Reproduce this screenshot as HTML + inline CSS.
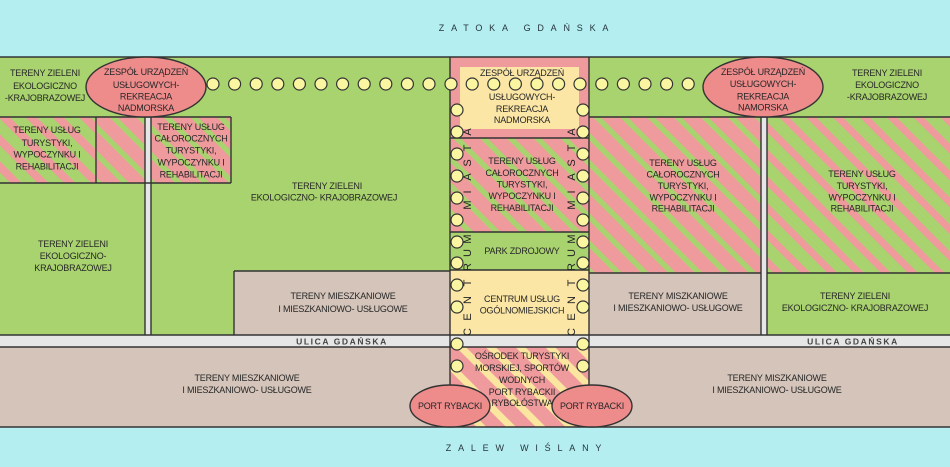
<!DOCTYPE html>
<html><head><meta charset="utf-8"><style>
html,body{margin:0;padding:0;background:#b4eef0;}
svg{display:block;}
text{font-family:"Liberation Sans",sans-serif;font-size:9px;fill:#262626;text-anchor:middle;letter-spacing:-0.2px;}
.sea{font-size:9px;letter-spacing:6.8px;fill:#26343c;}
.road{font-size:8.5px;letter-spacing:1.6px;fill:#444;font-weight:bold;}
.vt{font-size:11px;letter-spacing:0;dominant-baseline:central;fill:#222;}
</style></head><body>
<svg width="950" height="467" viewBox="0 0 950 467" xmlns="http://www.w3.org/2000/svg">
<defs>
<pattern id="pA" width="19" height="19" patternUnits="userSpaceOnUse" patternTransform="rotate(45)"><rect width="19" height="19" fill="#ef9a9c"/><rect width="19" height="5.5" fill="#a9d36f"/></pattern>
<pattern id="pB" width="19" height="19" patternUnits="userSpaceOnUse" patternTransform="rotate(45)"><rect width="19" height="19" fill="#a9d36f"/><rect width="19" height="7" fill="#ef9a9c"/></pattern>
<pattern id="pC" width="19" height="19" patternUnits="userSpaceOnUse" patternTransform="rotate(45)"><rect width="19" height="19" fill="#a9d36f"/><rect width="19" height="8" fill="#ef9a9c"/></pattern>
<pattern id="pD" width="21" height="21" patternUnits="userSpaceOnUse" patternTransform="rotate(45)"><rect width="21" height="21" fill="#ef9a9c"/><rect width="21" height="7" fill="#fbe6a0"/></pattern>
</defs>
<rect x="0" y="0" width="950" height="467" fill="#b4eef0"/>
<rect x="0" y="57" width="950" height="278" fill="#a9d36f"/>
<rect x="0" y="117" width="96" height="66" fill="url(#pC)"/>
<rect x="96" y="117" width="49" height="66" fill="url(#pA)"/>
<rect x="151" y="117" width="80" height="66" fill="url(#pA)"/>
<rect x="145" y="117" width="6" height="218" fill="#e6e6e6"/>
<rect x="234" y="271" width="216" height="64" fill="#d4c4ba"/>
<rect x="450" y="57" width="139" height="81" fill="#ef9a9c"/>
<rect x="460" y="67" width="119" height="62" fill="#fbe6a6"/>
<rect x="450" y="138" width="139" height="94" fill="url(#pA)"/>
<rect x="450" y="232" width="139" height="38" fill="#a9d36f"/>
<rect x="450" y="270" width="139" height="65" fill="#fbe6a6"/>
<rect x="589" y="117" width="172" height="156" fill="url(#pA)"/>
<rect x="767" y="117" width="183" height="156" fill="url(#pB)"/>
<rect x="761" y="117" width="6" height="218" fill="#e6e6e6"/>
<rect x="589" y="273" width="172" height="62" fill="#d4c4ba"/>
<rect x="0" y="335" width="950" height="12" fill="#e6e6e6"/>
<rect x="0" y="347" width="950" height="80" fill="#d4c4ba"/>
<rect x="450" y="347" width="139" height="80" fill="url(#pD)"/>

<g stroke="#333" stroke-width="1.4" fill="none">
<line x1="0" y1="57" x2="950" y2="57"/>
<line x1="0" y1="117" x2="231" y2="117"/>
<line x1="589" y1="117" x2="950" y2="117"/>
<line x1="0" y1="183" x2="231" y2="183"/>
<line x1="96" y1="117" x2="96" y2="183"/>
<line x1="231" y1="117" x2="231" y2="183"/>
<line x1="145" y1="117" x2="145" y2="335"/>
<line x1="151" y1="117" x2="151" y2="335"/>
<line x1="234" y1="271" x2="450" y2="271"/>
<line x1="234" y1="271" x2="234" y2="335"/>
<line x1="761" y1="117" x2="761" y2="335"/>
<line x1="767" y1="117" x2="767" y2="335"/>
<line x1="589" y1="273" x2="761" y2="273"/>
<line x1="767" y1="273" x2="950" y2="273"/>
<line x1="0" y1="335" x2="950" y2="335"/>
<line x1="0" y1="347" x2="950" y2="347"/>
<line x1="0" y1="427" x2="950" y2="427"/>
<line x1="450" y1="57" x2="450" y2="427"/>
<line x1="589" y1="57" x2="589" y2="427"/>
<line x1="450" y1="138" x2="589" y2="138"/>
<line x1="450" y1="232" x2="589" y2="232"/>
<line x1="450" y1="270" x2="589" y2="270"/>
</g>

<ellipse cx="146" cy="87" rx="60" ry="30" fill="#ee8c8c" stroke="#333" stroke-width="1.4"/>
<ellipse cx="763" cy="87" rx="60" ry="30" fill="#ee8c8c" stroke="#333" stroke-width="1.4"/>

<g fill="#faf5a0" stroke="#333" stroke-width="1.2">
<circle cx="213" cy="84" r="6"/><circle cx="234.6" cy="84" r="6"/><circle cx="256.2" cy="84" r="6"/><circle cx="277.8" cy="84" r="6"/><circle cx="299.4" cy="84" r="6"/><circle cx="321" cy="84" r="6"/><circle cx="342.6" cy="84" r="6"/><circle cx="364.2" cy="84" r="6"/><circle cx="385.8" cy="84" r="6"/><circle cx="407.4" cy="84" r="6"/><circle cx="429" cy="84" r="6"/><circle cx="451" cy="84" r="6"/><circle cx="472.2" cy="84" r="6"/><circle cx="493.8" cy="84" r="6"/><circle cx="515.4" cy="84" r="6"/><circle cx="537" cy="84" r="6"/><circle cx="558.6" cy="84" r="6"/><circle cx="580" cy="84" r="6"/><circle cx="601.8" cy="84" r="6"/><circle cx="623.4" cy="84" r="6"/><circle cx="645" cy="84" r="6"/><circle cx="666.6" cy="84" r="6"/><circle cx="688.2" cy="84" r="6"/>
<circle cx="457" cy="110" r="6"/><circle cx="457" cy="132" r="6"/><circle cx="457" cy="154" r="6"/><circle cx="457" cy="176" r="6"/><circle cx="457" cy="198" r="6"/><circle cx="457" cy="220" r="6"/><circle cx="457" cy="242" r="6"/><circle cx="457" cy="263" r="6"/><circle cx="457" cy="285" r="6"/><circle cx="457" cy="307" r="6"/><circle cx="457" cy="344" r="6"/><circle cx="457" cy="366" r="6"/>
<circle cx="583" cy="110" r="6"/><circle cx="583" cy="132" r="6"/><circle cx="583" cy="154" r="6"/><circle cx="583" cy="176" r="6"/><circle cx="583" cy="198" r="6"/><circle cx="583" cy="220" r="6"/><circle cx="583" cy="242" r="6"/><circle cx="583" cy="263" r="6"/><circle cx="583" cy="285" r="6"/><circle cx="583" cy="307" r="6"/><circle cx="583" cy="344" r="6"/><circle cx="583" cy="366" r="6"/>
</g>

<g>
<text class="vt" transform="translate(468,332) rotate(-90)">C</text>
<text class="vt" transform="translate(468,317) rotate(-90)">E</text>
<text class="vt" transform="translate(468,300) rotate(-90)">N</text>
<text class="vt" transform="translate(468,283) rotate(-90)">T</text>
<text class="vt" transform="translate(468,267) rotate(-90)">R</text>
<text class="vt" transform="translate(468,253) rotate(-90)">U</text>
<text class="vt" transform="translate(468,239) rotate(-90)">M</text>
<text class="vt" transform="translate(468,205) rotate(-90)">M</text>
<text class="vt" transform="translate(468,192) rotate(-90)">I</text>
<text class="vt" transform="translate(468,177) rotate(-90)">A</text>
<text class="vt" transform="translate(468,163) rotate(-90)">S</text>
<text class="vt" transform="translate(468,148) rotate(-90)">T</text>
<text class="vt" transform="translate(468,132) rotate(-90)">A</text>
<text class="vt" transform="translate(572,332) rotate(-90)">C</text>
<text class="vt" transform="translate(572,317) rotate(-90)">E</text>
<text class="vt" transform="translate(572,300) rotate(-90)">N</text>
<text class="vt" transform="translate(572,283) rotate(-90)">T</text>
<text class="vt" transform="translate(572,267) rotate(-90)">R</text>
<text class="vt" transform="translate(572,253) rotate(-90)">U</text>
<text class="vt" transform="translate(572,239) rotate(-90)">M</text>
<text class="vt" transform="translate(572,205) rotate(-90)">M</text>
<text class="vt" transform="translate(572,192) rotate(-90)">I</text>
<text class="vt" transform="translate(572,177) rotate(-90)">A</text>
<text class="vt" transform="translate(572,163) rotate(-90)">S</text>
<text class="vt" transform="translate(572,148) rotate(-90)">T</text>
<text class="vt" transform="translate(572,132) rotate(-90)">A</text>
</g>

<text class="sea" x="527" y="31">ZATOKA GDAŃSKA</text>
<text class="sea" x="527" y="451">ZALEW WIŚLANY</text>
<text class="road" x="342" y="344.5">ULICA GDAŃSKA</text>
<text class="road" x="853" y="344.5">ULICA GDAŃSKA</text>

<text x="45" y="76">TERENY ZIELENI</text>
<text x="45" y="89">EKOLOGICZNO</text>
<text x="45" y="101">-KRAJOBRAZOWEJ</text>

<text x="146" y="75">ZESPÓŁ URZĄDZEŃ</text>
<text x="146" y="88">USŁUGOWYCH-</text>
<text x="146" y="99.5">REKREACJA</text>
<text x="146" y="111">NADMORSKA</text>

<text x="47" y="133">TERENY USŁUG</text>
<text x="47" y="146">TURYSTYKI,</text>
<text x="47" y="157.5">WYPOCZYNKU I</text>
<text x="47" y="169.5">REHABILITACJI</text>

<text x="191" y="130">TERENY USŁUG</text>
<text x="191" y="141.5">CAŁOROCZNYCH</text>
<text x="191" y="153.5">TURYSTYKI,</text>
<text x="191" y="165.5">WYPOCZYNKU I</text>
<text x="191" y="177.5">REHABILITACJI</text>

<text x="327" y="189">TERENY ZIELENI</text>
<text x="324" y="200.5">EKOLOGICZNO- KRAJOBRAZOWEJ</text>

<text x="73" y="247">TERENY ZIELENI</text>
<text x="73" y="259">EKOLOGICZNO-</text>
<text x="73" y="271">KRAJOBRAZOWEJ</text>

<text x="343" y="299">TERENY MIESZKANIOWE</text>
<text x="343" y="312">I MIESZKANIOWO- USŁUGOWE</text>

<text x="247" y="381">TERENY MIESZKANIOWE</text>
<text x="247" y="393">I MIESZKANIOWO- USŁUGOWE</text>

<text x="522" y="76">ZESPÓŁ URZĄDZEŃ</text>
<text x="522" y="100">USŁUGOWYCH-</text>
<text x="522" y="112">REKREACJA</text>
<text x="522" y="123">NADMORSKA</text>

<text x="522" y="164">TERENY USŁUG</text>
<text x="522" y="176">CAŁOROCZNYCH</text>
<text x="522" y="187.5">TURYSTYKI,</text>
<text x="522" y="199">WYPOCZYNKU I</text>
<text x="522" y="211">REHABILITACJI</text>

<text x="522" y="254">PARK ZDROJOWY</text>

<text x="522" y="302">CENTRUM USŁUG</text>
<text x="522" y="313.5">OGÓLNOMIEJSKICH</text>

<text x="522" y="359">OŚRODEK TURYSTYKI</text>
<text x="522" y="371">MORSKIEJ, SPORTÓW</text>
<text x="522" y="383">WODNYCH</text>
<text x="522" y="395">PORT RYBACKII</text>
<text x="522" y="406">RYBOŁÓSTWA</text>

<text x="763" y="75">ZESPÓŁ URZĄDZEŃ</text>
<text x="763" y="87">USŁUGOWYCH-</text>
<text x="763" y="99.5">REKREACJA</text>
<text x="763" y="110.5">NAMORSKA</text>

<text x="887" y="76">TERENY ZIELENI</text>
<text x="887" y="88">EKOLOGICZNO</text>
<text x="887" y="100">-KRAJOBRAZOWEJ</text>

<text x="683" y="166">TERENY USŁUG</text>
<text x="683" y="177.5">CAŁOROCZNYCH</text>
<text x="683" y="189">TURYSTYKI,</text>
<text x="683" y="200.5">WYPOCZYNKU I</text>
<text x="683" y="211.5">REHABILITACJI</text>

<text x="862" y="177">TERENY USŁUG</text>
<text x="862" y="189">TURYSTYKI,</text>
<text x="862" y="200.5">WYPOCZYNKU I</text>
<text x="862" y="211.5">REHABILITACJI</text>

<text x="678" y="299">TERENY MISZKANIOWE</text>
<text x="678" y="311">I MIESZKANIOWO- USŁUGOWE</text>

<text x="855" y="299">TERENY ZIELENI</text>
<text x="855" y="311">EKOLOGICZNO- KRAJOBRAZOWEJ</text>

<text x="777" y="381">TERENY MISZKANIOWE</text>
<text x="777" y="393">I MIESZKANIOWO- USŁUGOWE</text>

<ellipse cx="450" cy="406" rx="40" ry="21" fill="#ee8c8c" stroke="#333" stroke-width="1.4"/>
<ellipse cx="592" cy="406" rx="40" ry="21" fill="#ee8c8c" stroke="#333" stroke-width="1.4"/>
<text x="450" y="409">PORT RYBACKI</text>
<text x="592" y="409">PORT RYBACKI</text>
</svg>
</body></html>
